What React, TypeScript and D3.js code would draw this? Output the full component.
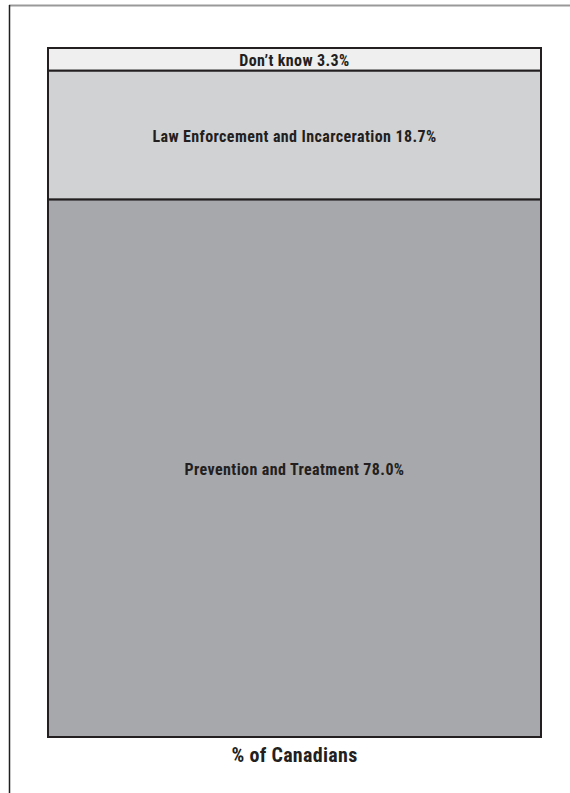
import React from "react";
import * as d3 from "d3";

const categories = ["Don\u2019t know", "Law Enforcement and Incarceration", "Prevention and Treatment"];
const values = [3.3, 18.7, 78.0];
const fills = ["#efefef", "#d1d2d4", "#a7a8ab"];
const axisTitle = "% of Canadians";

const W = 570;
const H = 793;
const FONT = "'Liberation Sans Narrow', 'Roboto Condensed', 'DejaVu Sans Condensed', Arial, sans-serif";

export default function App() {
  const x0 = 48, x1 = 541;
  const y = d3.scaleLinear().domain([0, 100]).range([48, 737]);
  const cum = d3.cumsum(values);
  const segs = values.map((v, i) => ({
    name: categories[i],
    value: v,
    start: i === 0 ? 0 : cum[i - 1],
    end: cum[i],
    fill: fills[i],
  }));
  return (
    <svg width={W} height={H} style={{ position: "absolute", left: 0, top: 0 }}>
      <rect x={0} y={0} width={W} height={H} fill="#ffffff" />
      <line x1={9} x2={W} y1={5.5} y2={5.5} stroke="#999999" strokeWidth={2} />
      <line x1={9.5} x2={9.5} y1={5} y2={H} stroke="#231f20" strokeWidth={1.5} />
      {segs.map((s, i) => (
        <g key={i}>
          <rect
            x={x0}
            y={y(s.start)}
            width={x1 - x0}
            height={y(s.end) - y(s.start)}
            fill={s.fill}
            stroke="#231f20"
            strokeWidth={2}
          />
          <text
            x={(x0 + x1) / 2}
            y={(y(s.start) + y(s.end)) / 2 + 1}
            dy="0.35em"
            textAnchor="middle"
            fontFamily={FONT}
            fontWeight="bold"
            fontSize={16}
            letterSpacing={0.4}
            fill="#231f20"
          >
            {`${s.name} ${s.value.toFixed(1)}%`}
          </text>
        </g>
      ))}
      <text
        x={(x0 + x1) / 2}
        y={755}
        dy="0.35em"
        textAnchor="middle"
        fontFamily={FONT}
        fontWeight="bold"
        fontSize={20}
        letterSpacing={0.3}
        fill="#231f20"
      >
        {axisTitle}
      </text>
    </svg>
  );
}
